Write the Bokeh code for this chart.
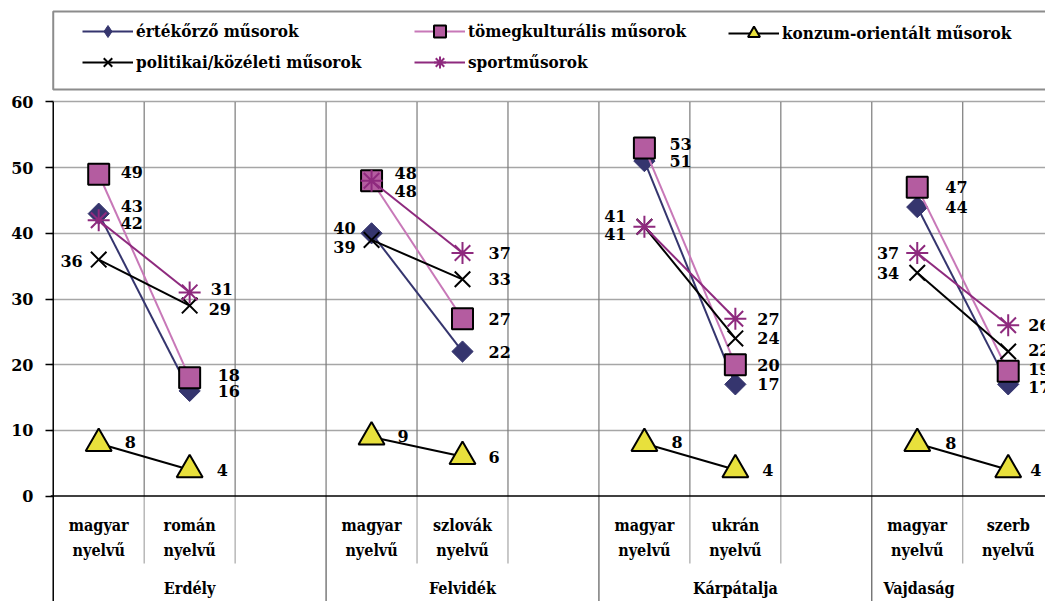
from bokeh.plotting import figure
from bokeh.models import ColumnDataSource, Range1d, FixedTicker, Legend, LegendItem
from bokeh.core.properties import value
from bokeh.embed import file_html
from bokeh.resources import INLINE

# ---------------- data ----------------
regions = ["Erdély", "Felvidék", "Kárpátalja", "Vajdaság"]
categories = ["magyar nyelvű", "román nyelvű",
              "magyar nyelvű", "szlovák nyelvű",
              "magyar nyelvű", "ukrán nyelvű",
              "magyar nyelvű", "szerb nyelvű"]
series_names = ["értékőrző műsorok", "tömegkulturális műsorok",
                "konzum-orientált műsorok", "politikai/közéleti műsorok",
                "sportműsorok"]
ertekorzo = [43, 16, 40, 22, 51, 17, 44, 17]
tomegkult = [49, 18, 48, 27, 53, 20, 47, 19]
konzum = [8, 4, 9, 6, 8, 4, 8, 4]
politikai = [36, 29, 39, 33, 41, 24, 34, 22]
sport = [42, 31, 48, 37, 41, 27, 37, 26]
y_ticks = [0, 10, 20, 30, 40, 50, 60]

# ---------------- layout / style ----------------
F_SERIF = "DejaVu Serif"
F_COND = "DejaVu Serif Condensed"
W, H = 1045, 601
LEFT = 50
SLOT = 90.95
X0 = -0.03
X1 = X0 + (W - LEFT) / SLOT
PX = 6.5667  # px per y unit
Y_TOP = 60 + 101.5 / PX
Y_BOT = -(H - 495.5) / PX

p = figure(width=W, height=H, output_backend="svg", toolbar_location=None,
           x_range=Range1d(X0, X1), y_range=Range1d(Y_BOT, Y_TOP),
           x_axis_type=None, min_border_left=LEFT, min_border_right=0,
           min_border_top=0, min_border_bottom=0, outline_line_color=None,
           background_fill_color="white", border_fill_color="white")

# y axis
ax = p.yaxis[0]
ax.ticker = FixedTicker(ticks=y_ticks)
ax.axis_line_color = None
ax.major_tick_out = 5
ax.major_tick_in = 3
ax.major_tick_line_color = "black"
ax.major_tick_line_width = 1.5
ax.minor_tick_line_color = None
ax.major_label_standoff = 12
ax.major_label_text_font = F_SERIF
ax.major_label_text_font_style = "bold"
ax.major_label_text_font_size = "16px"
ax.major_label_text_color = "black"

p.ygrid.ticker = FixedTicker(ticks=[t for t in y_ticks if t > 0])
p.ygrid.grid_line_color = "#a6a6a6"
p.ygrid.grid_line_width = 1.5

# slot geometry
n_slots = 3 * len(regions)
bounds = list(range(1, n_slots))
px_of = lambda r, j: 3 * r + j + 0.5
xs_pts = [px_of(r, j) for r in range(len(regions)) for j in range(2)]

# vertical separators inside plot
p.segment(x0=bounds, y0=[0] * len(bounds), x1=bounds, y1=[60] * len(bounds),
          line_color="#7a7a7a", line_width=1.2)
# separators in category area
grp_b = [b for b in bounds if b % 3 == 0]
sub_b = [b for b in bounds if b % 3 != 0]
p.segment(x0=sub_b, y0=[0] * len(sub_b), x1=sub_b, y1=[-67.5 / PX] * len(sub_b),
          line_color="#a6a6a6", line_width=1.2)
p.segment(x0=grp_b, y0=[0] * len(grp_b), x1=grp_b, y1=[Y_BOT] * len(grp_b),
          line_color="#5a5a5a", line_width=1.2)
# axis lines
p.segment(x0=[0], y0=[60], x1=[0], y1=[Y_BOT], line_color="black", line_width=1.5)
p.segment(x0=[X0], y0=[0], x1=[X1], y1=[0], line_color="black", line_width=1.5)

# legend frame
p.quad(left=[0], right=[X1 + 1], top=[(495.5 - 11) / PX], bottom=[(495.5 - 89) / PX],
       fill_color="white", line_color="#8c8c8c", line_width=2)

# ---------------- series ----------------
specs = [
    dict(vals=ertekorzo, line="#35356e", marker="square", angle=0.785398, size=15,
         fill="#35356e", mline="#35356e", mlw=1, lw=2, leg_marker="diamond"),
    dict(vals=tomegkult, line="#c878b8", marker="square", angle=0, size=21,
         fill="#b45ca0", mline="black", mlw=2, lw=2, leg_marker=None),
    dict(vals=konzum, line="black", marker="triangle", angle=0, size=26,
         fill="#e8e03c", mline="black", mlw=2, lw=2, leg_marker=None),
    dict(vals=politikai, line="black", marker="x", angle=0, size=22,
         fill="black", mline="black", mlw=2, lw=2, leg_marker=None),
    dict(vals=sport, line="#8e2a7e", marker="asterisk", angle=0, size=22,
         fill="#8e2a7e", mline="#8e2a7e", mlw=2, lw=2, leg_marker=None),
]
label_dx = [
    [22, 28, -16, 26, 25, 22, 28, 20],
    [22, 28, 23, 26, 25, 22, 28, 20],
    [26, 27, 26, 26, 27, 27, 28, 22],
    [-16, 19, -16, 26, -18, 22, -18, 20],
    [22, 21, 23, 26, -18, 22, -18, 20],
]
label_dy = [
    [-8, 0, -5, 0, 0, 0, 0, 3],
    [-2, -3, -8, 0, -4, 0, 0, -2],
    [-1, 0, -1, 0, -1, 0, 0, 0],
    [1, 3, 7, 0, 7, 0, 0, -2],
    [3, -3, 10, 0, -11, 0, 0, 0],
]

renderers = []
for k, s in enumerate(specs):
    v = s["vals"]
    mxs = [[px_of(r, 0), px_of(r, 1)] for r in range(len(regions))]
    mys = [[v[2 * r], v[2 * r + 1]] for r in range(len(regions))]
    lr = p.multi_line(xs=mxs, ys=mys, line_color=s["line"], line_width=s["lw"])
    sr = p.scatter(x=xs_pts, y=v, marker=s["marker"], size=s["size"], angle=s["angle"],
                   fill_color=s["fill"], line_color=s["mline"], line_width=s["mlw"])
    if s["leg_marker"]:
        # legend-only proxy (rotated markers are not rotated inside legends)
        proxy = p.scatter(x=[float("nan")], y=[float("nan")], marker=s["leg_marker"],
                          size=s["size"], fill_color=s["fill"], line_color=s["mline"],
                          line_width=s["mlw"])
        renderers.append((lr, proxy))
    else:
        renderers.append((lr, sr))

# data labels (drawn on top)
for k, s in enumerate(specs):
    v = s["vals"]
    for side in ("left", "right"):
        idx = [i for i in range(len(v)) if (label_dx[k][i] >= 0) == (side == "left")]
        if not idx:
            continue
        src = ColumnDataSource(dict(
            x=[xs_pts[i] for i in idx], y=[v[i] for i in idx],
            t=[str(v[i]) for i in idx],
            dx=[label_dx[k][i] for i in idx], dy=[label_dy[k][i] for i in idx]))
        p.text(x="x", y="y", text="t", x_offset="dx", y_offset="dy", source=src,
               text_align=side, text_baseline="middle", text_font=value(F_SERIF),
               text_font_style="bold", text_font_size="16px", text_color="black")

# category labels
cat_src = ColumnDataSource(dict(
    x=xs_pts,
    l1=[c.split(" ")[0] for c in categories],
    l2=[c.split(" ")[1] for c in categories],
    y=[0] * len(categories)))
for col, off in (("l1", 29.5), ("l2", 54.5)):
    p.text(x="x", y="y", text=col, source=cat_src, y_offset=off,
           text_align="center", text_baseline="middle", text_font=value(F_COND),
           text_font_style="bold", text_font_size="16px", text_color="black")
grp_x = [1.5, 4.5, 7.5, 9.52]
p.text(x=grp_x, y=[0] * 4, text=regions, y_offset=92.5,
       text_align="center", text_baseline="middle", text_font=value(F_COND),
       text_font_style="bold", text_font_size="16px", text_color="black")

# legends
def mk_legend(items, loc):
    lg = Legend(items=items, location=loc, orientation="vertical",
                border_line_color=None, background_fill_alpha=0, padding=0, margin=0,
                spacing=1, glyph_width=51, glyph_height=30, label_height=30,
                label_standoff=3, label_text_font=F_COND, label_text_color="black",
                label_text_font_style="bold", label_text_font_size="17px")
    p.add_layout(lg, "center")

item = lambda k: LegendItem(label=series_names[k], renderers=list(renderers[k]))
mk_legend([item(0), item(3)], (32, 524))
mk_legend([item(1), item(4)], (364, 524))
mk_legend([item(2)], (678, 553))

open("out.html", "w").write(file_html(p, INLINE))
